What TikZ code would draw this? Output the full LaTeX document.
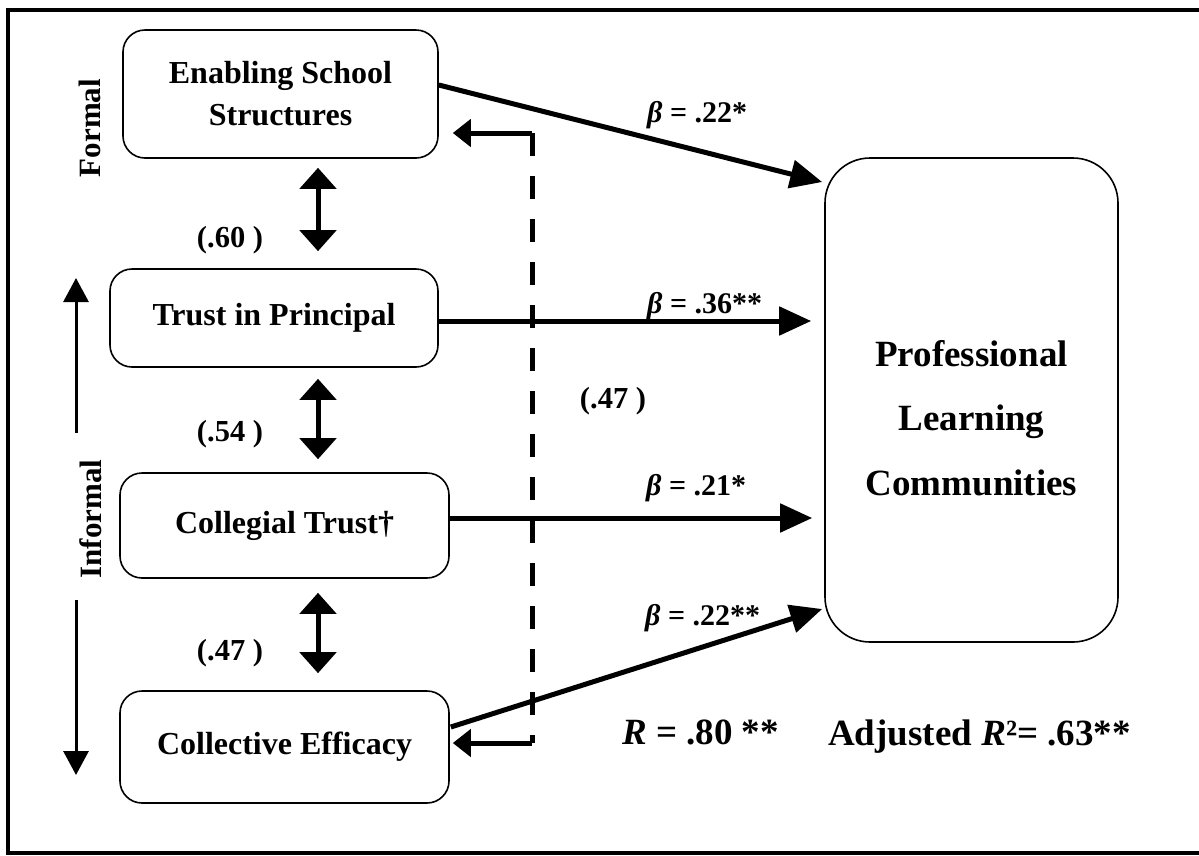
\documentclass[tikz,border=0pt]{standalone}
\usepackage{fontspec}
\setmainfont{Liberation Serif}
\usetikzlibrary{arrows.meta,calc}
\tikzset{
  box/.style={draw, line width=1.6pt, rounded corners=22pt, align=center, inner sep=0pt,
    font=\fontsize{32}{42}\selectfont\bfseries},
  bigbox/.style={draw, line width=1.6pt, rounded corners=45pt, inner sep=0pt},
  parrow/.style={line width=5pt, -{Triangle[length=32pt,width=28pt]}},
  dbl/.style={line width=5pt, {Triangle[length=21pt,width=36pt]}-{Triangle[length=21pt,width=36pt]}},
  fb/.style={line width=5pt, -{Triangle[length=18pt,width=27pt]}},
  fbdash/.style={line width=5pt, dash pattern=on 23pt off 20pt},
  thinarrow/.style={line width=3pt, -{Triangle[length=24pt,width=25pt]}},
  coef/.style={font=\fontsize{30}{32}\selectfont\bfseries, anchor=base west, inner sep=0pt},
  corr/.style={font=\fontsize{30.5}{32}\selectfont\bfseries, anchor=base, inner sep=0pt},
  side/.style={font=\fontsize{31}{34}\selectfont\bfseries, rotate=90, inner sep=0pt},
  stat/.style={font=\fontsize{37}{40}\selectfont\bfseries, anchor=base west, inner sep=0pt},
}
\begin{document}
\begin{tikzpicture}[x=1pt,y=-1pt]
\useasboundingbox (0,0) rectangle (1199,855);
% frame
\draw[line width=3.5pt] (1210,10) -- (8,10) -- (8,853) -- (1210,853);

% boxes
\node[box, minimum width=315pt, minimum height=128pt] (esc) at (280.5,94) {Enabling School\\Structures};
\node[box, minimum width=328pt, minimum height=98pt] (tip) at (274,318) {Trust in Principal};
\node[box, minimum width=329pt, minimum height=105pt] (ct) at (284.5,525.5) {Collegial Trust†};
\node[box, minimum width=329pt, minimum height=112pt] (ce) at (284.5,747) {Collective Efficacy};
\node[bigbox, minimum width=293pt, minimum height=484pt] (plc) at (971.5,400) {};
\node[align=center, inner sep=0pt, font=\fontsize{37}{64.5}\selectfont\bfseries] (plctext) at (971.5,418) {Professional\\Learning\\Communities};

% side labels
\node[side] (formal) at (90,128) {Formal};
\node[side] (informal) at (91,519) {Informal};
\coordinate (upS) at (76,433);
\coordinate (upE) at (76,278);
\coordinate (dnS) at (76,600);
\coordinate (dnE) at (76,775);
\draw[thinarrow] (upS) -- (upE);
\draw[thinarrow] (dnS) -- (dnE);

% correlations
\draw[dbl] ($(esc.south)+(37.5,9)$) -- ($(tip.north)+(44,-17)$);
\draw[dbl] ($(tip.south)+(44,11)$) -- ($(ct.north)+(33.5,-13)$);
\draw[dbl] ($(ct.south)+(33.5,14)$) -- ($(ce.north)+(33.5,-17)$);
\node[corr] (c1) at (230,247) {(.60 )};
\node[corr] (c2) at (230,441) {(.54 )};
\node[corr] (c3) at (230,660) {(.47 )};
\node[corr] (c4) at (613,408) {(.47 )};

% feedback dashed
\coordinate (dtop) at (532,133);
\coordinate (dbot) at (532,743);
\draw[fbdash] (dtop) -- (dbot);
\draw[fb] (dtop) -- ($(esc.east)+(14,39)$);
\draw[fb] (dbot) -- ($(ce.east)+(3,-4)$);

% paths to PLC
\draw[parrow] ($(esc.east)+(0,-9)$) -- ($(plc.west)+(-2,-218)$);
\draw[parrow] ($(tip.east)+(0,3)$) -- ($(plc.west)+(-13,-79)$);
\draw[parrow] ($(ct.east)+(0,-7.5)$) -- ($(plc.west)+(-12,118)$);
\draw[parrow] ($(ce.east)+(1,-20)$) -- ($(plc.west)+(-2,209)$);

\node[coef] (b1) at (647,122) {{\itshape β} = .22*};
\node[coef] (b2) at (647,313) {{\itshape β} = .36**};
\node[coef] (b3) at (646,495) {{\itshape β} = .21*};
\node[coef] (b4) at (645,625) {{\itshape β} = .22**};

\node[stat] (rr) at (622,744) {{\itshape R} = .80 **};
\node[stat] (adj) at (828,745) {Adjusted {\itshape R}²= .63**};
\end{tikzpicture}
\end{document}
